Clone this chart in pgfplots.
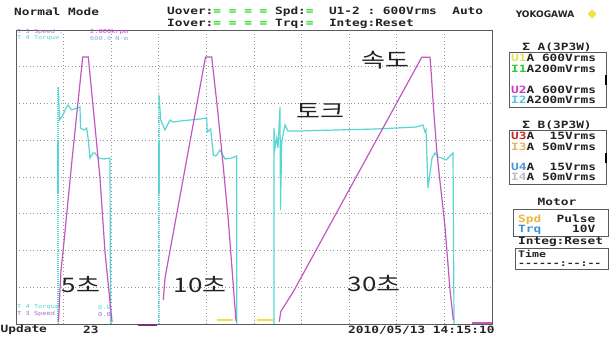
\documentclass[border=0pt]{standalone}
\usepackage{fontspec}
\usepackage{pgfplots}
\pgfplotsset{compat=1.18}
\setmainfont{DejaVu Sans}
\newfontfamily\scr{DejaVu Sans Mono Bold}[FakeStretch=1.28]
\newfontfamily\scrl{DejaVu Sans Mono}[FakeStretch=1.27]
\newfontfamily\kr{Noto Sans CJK KR}[FakeStretch=1.3]
\definecolor{spd}{RGB}{192,88,192}
\definecolor{trq}{RGB}{88,214,212}
\definecolor{gridc}{RGB}{150,150,150}
\definecolor{framec}{RGB}{90,90,90}
\definecolor{scrgreen}{RGB}{20,220,20}
\definecolor{yel}{RGB}{240,225,70}
\definecolor{txt}{RGB}{35,35,35}
\definecolor{darkpur}{RGB}{120,50,120}
\definecolor{spdlab}{RGB}{170,110,200}
\definecolor{spdval}{RGB}{200,60,220}
\definecolor{trqval}{RGB}{140,170,230}
\definecolor{cu1}{RGB}{225,225,90}
\definecolor{ci1}{RGB}{50,200,60}
\definecolor{cu2}{RGB}{200,60,200}
\definecolor{ci2}{RGB}{80,200,225}
\definecolor{cu3}{RGB}{200,40,40}
\definecolor{ci3}{RGB}{230,180,100}
\definecolor{cu4}{RGB}{80,150,220}
\definecolor{ci4}{RGB}{190,190,190}
\definecolor{cspd}{RGB}{240,180,60}
\definecolor{ctrq}{RGB}{60,150,220}
\tikzset{
  scrtxt/.style={inner sep=0pt, anchor=west, text=txt, font=\scr\fontsize{10bp}{12bp}\selectfont},
  scrs/.style={inner sep=0pt, anchor=west, text=txt, font=\scr\fontsize{9bp}{10bp}\selectfont},
  scrc/.style={inner sep=0pt, anchor=center, text=txt, font=\scr\fontsize{10bp}{12bp}\selectfont},
  tiny/.style={inner sep=0pt, anchor=west, font=\scrl\fontsize{5.5bp}{6bp}\selectfont},
  krl/.style={inner sep=0pt, anchor=center, text=txt, font=\kr\fontsize{20bp}{24bp}\selectfont},
  box/.style={draw=framec, line width=0.8pt}
}
\begin{document}
\begin{tikzpicture}[x=1bp,y=-1bp]
\useasboundingbox (0,0) rectangle (614,337);
\fill[white] (0,0) rectangle (614,337);
\begin{axis}[at={(16bp,-324bp)}, anchor=south west, scale only axis,
  width=476bp, height=294bp, xmin=0, xmax=476, ymin=0, ymax=294,
  xtick={47.6,95.2,142.8,190.4,238,285.6,333.2,380.8,428.4},
  ytick={36.75,73.5,110.25,147,183.75,220.5,257.25},
  xticklabels={}, yticklabels={}, major tick length=0pt,
  grid=major, grid style={gridc, line width=0.8pt, dash pattern=on 1pt off 2.5pt},
  axis line style={framec, line width=1pt}, clip=false]
% segment 1 (5 s)
\addplot[trq, line width=2pt, dash pattern=on 1.2pt off 0.8pt] coordinates {(42.3,0) (42.3,237)};
\addplot[trq, line width=1.2pt] coordinates {(42.3,237) (43.5,204) (47,209) (50,216) (52,219) (55.7,214) (60.7,216) (64,217) (64.5,196) (68,194) (70.7,196) (72.3,184) (74,166) (77,171) (79,171) (82.3,166) (88,165) (94,166) (94.5,0)};
\addplot[spd, line width=1.2pt] coordinates {(42.5,2) (43.5,24) (45,54) (47,72) (56,164) (66.7,267) (72.3,267) (78,208) (84,146) (89,72) (94,22) (95.7,6) (96,2)};
% segment 2 (10 s)
\addplot[trq, line width=2pt, dash pattern=on 1.2pt off 0.8pt] coordinates {(143,0) (143,229)};
\addplot[trq, line width=1.2pt] coordinates {(143,229) (144.7,204) (149,194) (154,204) (157,202) (164,203) (174,204) (184,205) (190.7,206) (191.3,192) (194.7,195) (197.3,169) (200,168) (204,174) (209,165) (215.7,166) (220.7,168) (220.7,0)};
\addplot[spd, line width=1.2pt] coordinates {(147.3,24) (149,46) (189.5,267) (195.7,267) (201.3,217) (207.3,157) (212.3,104) (219,16) (220,3)};
% segment 3 (30 s)
\addplot[trq, line width=1.2pt] coordinates {(258,0) (258,196) (259,176) (260.7,186) (262,176) (264,217) (264.5,114) (265.7,182) (269,199) (272,193) (284,193) (300,193.5) (320,194) (340,194.5) (360,195) (380,196) (400,197) (407,199) (409,192) (410,194) (412,136) (416,166) (419,171) (422,167) (426,166) (430,164) (437,171) (438,0)};
\addplot[spd, line width=1.2pt] coordinates {(263.3,2.3) (264.7,12.3) (277.3,32.3) (405.7,266.7) (414,266.7) (415,254) (417.3,219) (420.7,174) (424,142.3) (429,97.3) (434,34) (437.3,4)};
% small bottom marks
\addplot[darkpur, line width=2pt] coordinates {(122,-0.5) (141,-0.5)};
\addplot[yel, line width=1.5pt] coordinates {(201,4) (217,4)};
\addplot[yel, line width=1.5pt] coordinates {(241,4) (257,4)};
\addplot[spd, line width=2pt] coordinates {(456,1) (476,1)};
% Korean labels
\node[krl] at (axis cs:65,39) {5초};
\node[krl] at (axis cs:184,39) {10초};
\node[krl] at (axis cs:358,40) {30초};
\node[krl] at (axis cs:304,213) {토크};
\node[krl] at (axis cs:369,264) {속도};
\end{axis}
% tiny scale labels
\node[tiny, text=spdlab] at (17,32) {T 3 Speed :};
\node[tiny, text=spdval] at (90,32) {2.000krpm};
\node[tiny, text=trq] at (17,38) {T 4 Torque};
\node[tiny, text=trqval] at (90,38) {600.0 N·m};
\node[tiny, text=trq] at (17,307) {T 4 Torque};
\node[tiny, text=spdlab] at (17,314) {T 3 Speed};
\node[tiny, text=trq] at (98,307) {0.0};
\node[tiny, text=spdlab] at (98,314) {0.0};
% header
\node[scrtxt] at (14,12) {Normal Mode};
\node[scrtxt] at (167,12) {Uover:\textcolor{scrgreen}{= = = =} Spd:\textcolor{scrgreen}{=}~~U1-2~:~600Vrms~~Auto};
\node[scrtxt] at (167,24) {Iover:\textcolor{scrgreen}{= = = =} Trq:\textcolor{scrgreen}{=}~~Integ:Reset};
\node[inner sep=0pt, text=txt, font=\bfseries\fontsize{9bp}{10bp}\selectfont] at (545,14) {YOKOGAWA};
\fill[yel] (592,9.5)--(596.5,14)--(592,18.5)--(587.5,14)--cycle;
% bottom
\node[scrtxt] at (0.5,330) {Update};
\node[scrtxt] at (83,330) {23};
\node[scrtxt] at (348,330) {2010/05/13 14:15:10};
% right panel
\node[scrc] at (557,47) {Σ A(3P3W)};
\draw[box] (509,52) rectangle (606,107);
\draw[black, line width=2.5pt] (606,75)--(606,85);
\node[scrtxt] at (511,58) {\textcolor{cu1}{U1}A~600Vrms};
\node[scrtxt] at (511,69) {\textcolor{ci1}{I1}A200mVrms};
\node[scrtxt] at (511,90) {\textcolor{cu2}{U2}A~600Vrms};
\node[scrtxt] at (511,100) {\textcolor{ci2}{I2}A200mVrms};
\node[scrc] at (557,125) {Σ B(3P3W)};
\draw[box] (509,130) rectangle (606,184);
\draw[black, line width=2.5pt] (606,153)--(606,163);
\node[scrtxt] at (511,136) {\textcolor{cu3}{U3}A~~15Vrms};
\node[scrtxt] at (511,147) {\textcolor{ci3}{I3}A~50mVrms};
\node[scrtxt] at (511,167) {\textcolor{cu4}{U4}A~~15Vrms};
\node[scrtxt] at (511,177) {\textcolor{ci4}{I4}A~50mVrms};
\node[scrc] at (557,202) {Motor};
\draw[box] (513,209) rectangle (608,236);
\node[scrtxt] at (518,220) {\textcolor{cspd}{Spd}~~Pulse};
\node[scrtxt] at (518,230) {\textcolor{ctrq}{Trq}~~~~10V};
\node[scrtxt] at (518,242) {Integ:Reset};
\draw[box] (515,248) rectangle (608,269);
\node[scrs] at (518,253.5) {Time};
\node[scrs] at (518,264) {------:--:--};
\end{tikzpicture}
\end{document}
